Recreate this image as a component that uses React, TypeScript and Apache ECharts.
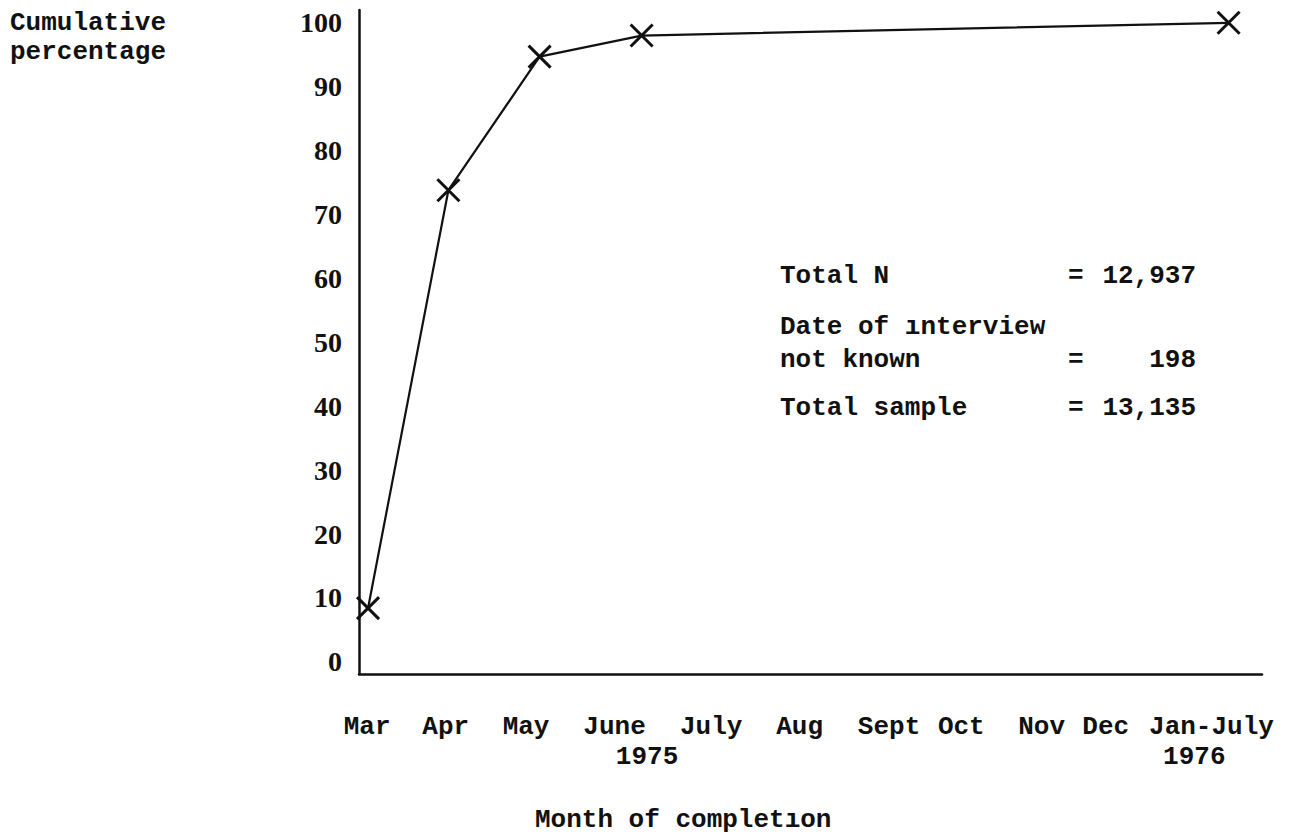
import React, { useEffect, useRef } from "react";
import * as echarts from "echarts";

// Horizontal positions along the time axis (0 = axis start, 100 = axis end)
const pointPositions = [1.0, 9.9, 20.0, 31.3, 96.3];
const cumulativePercent = [8.4, 73.8, 94.7, 98.0, 100.0];

const monthLabels = ["Mar", "Apr", "May", "June", "July", "Aug", "Sept", "Oct", "Nov", "Dec", "Jan-July"];
const monthLabelPositions = [0.9, 9.6, 18.5, 28.3, 39.0, 48.8, 58.7, 66.7, 75.6, 82.7, 94.4];

const yearLabels = ["1975", "1976"];
const yearLabelPositions = [31.9, 92.5];

const yTicks = [0, 10, 20, 30, 40, 50, 60, 70, 80, 90, 100];

const noteLabels = ["Total N", "Date of ınterview", "not known", "Total sample"];
const noteValues = ["12,937", "", "198", "13,135"];

const MONO = '"Liberation Mono", "DejaVu Sans Mono", monospace';
const SERIF = '"Liberation Serif", "DejaVu Serif", serif';

function nearestLabel(v: number, positions: number[], labels: string[]) {
  let best = -1;
  let bd = Infinity;
  positions.forEach((p, i) => {
    const d = Math.abs(p - v);
    if (d < bd) {
      bd = d;
      best = i;
    }
  });
  return bd < 0.5 ? labels[best] : "";
}

export default function App() {
  const ref = useRef<HTMLDivElement>(null);
  useEffect(() => {
    if (!ref.current) return;
    const chart = echarts.init(ref.current, null, { renderer: "svg" });
    const noteRowsY = [276, 327, 360, 408];
    const graphics: any[] = [];
    noteLabels.forEach((t, i) => {
      graphics.push({
        type: "text",
        left: 780,
        top: noteRowsY[i] - 13,
        style: { text: t, font: `bold 26px ${MONO}`, fill: "#111" },
      });
      if (noteValues[i] !== "") {
        graphics.push({
          type: "text",
          left: 1068,
          top: noteRowsY[i] - 13,
          style: { text: "=", font: `bold 26px ${MONO}`, fill: "#111" },
        });
        graphics.push({
          type: "text",
          right: 1293 - 1196,
          top: noteRowsY[i] - 13,
          style: { text: noteValues[i], font: `bold 26px ${MONO}`, fill: "#111", align: "right" },
        });
      }
    });
    graphics.push({
      type: "text",
      left: 10,
      top: 8,
      style: {
        text: "Cumulative\npercentage",
        font: `bold 26px ${MONO}`,
        lineHeight: 29,
        fill: "#111",
      },
    });
    graphics.push({
      type: "text",
      left: 535,
      top: 807,
      style: { text: "Month of completıon", font: `bold 26px ${MONO}`, fill: "#111" },
    });

    chart.setOption({
      animation: false,
      backgroundColor: "#ffffff",
      grid: { left: 359, right: 31, top: 10, bottom: 161, containLabel: false },
      xAxis: [
        {
          type: "value",
          min: 0,
          max: 100,
          position: "bottom",
          axisLine: { show: true, onZero: false, lineStyle: { color: "#111", width: 2.5 } },
          axisTick: { show: false },
          splitLine: { show: false },
          axisLabel: {
            customValues: monthLabelPositions,
            margin: 40,
            color: "#111",
            fontFamily: MONO,
            fontWeight: "bold",
            fontSize: 26,
            formatter: (v: number) => nearestLabel(v, monthLabelPositions, monthLabels),
          },
        },
        {
          type: "value",
          min: 0,
          max: 100,
          position: "bottom",
          offset: 30,
          axisLine: { show: false, onZero: false },
          axisTick: { show: false },
          splitLine: { show: false },
          axisLabel: {
            customValues: yearLabelPositions,
            margin: 40,
            color: "#111",
            fontFamily: MONO,
            fontWeight: "bold",
            fontSize: 26,
            formatter: (v: number) => nearestLabel(v, yearLabelPositions, yearLabels),
          },
        },
      ],
      yAxis: {
        type: "value",
        min: -1.9,
        max: 102,
        axisLine: { show: true, onZero: false, lineStyle: { color: "#111", width: 2.5 } },
        axisTick: { show: false },
        splitLine: { show: false },
        axisLabel: {
          customValues: yTicks,
          margin: 17,
          color: "#111",
          fontFamily: SERIF,
          fontWeight: "bold",
          fontSize: 28,
        },
      },
      graphic: graphics,
      series: [
        {
          type: "line",
          xAxisIndex: 0,
          data: pointPositions.map((x, i) => [x, cumulativePercent[i]]),
          symbol: "path://M0,0L20,20M20,0L0,20",
          symbolSize: 22,
          showAllSymbol: true,
          lineStyle: { color: "#111", width: 2.2 },
          itemStyle: { color: "none", borderColor: "#111", borderWidth: 3 },
        },
      ],
    });
    return () => chart.dispose();
  }, []);
  return (
    <div
      ref={ref}
      style={{ position: "absolute", left: 0, top: 0, width: 1293, height: 835, background: "#fff" }}
    />
  );
}
